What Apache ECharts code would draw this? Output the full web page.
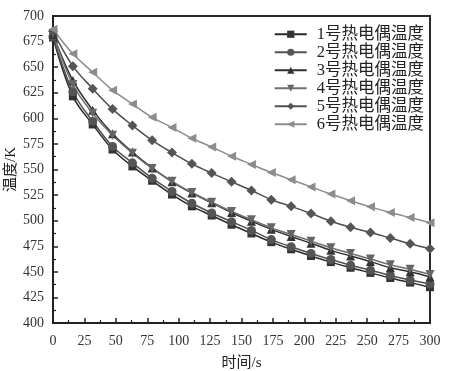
<!DOCTYPE html>
<html><head><meta charset="utf-8">
<script src="https://cdn.jsdelivr.net/npm/echarts@6/dist/echarts.min.js"></script>
<style>html,body{margin:0;padding:0;background:#fff}#c{width:449px;height:371px}</style>
</head><body><div id="c"></div>
<script>
const times = [0, 15.8, 31.6, 47.4, 63.2, 78.9, 94.7, 110.5, 126.3, 142.1, 157.9, 173.7, 189.5, 205.3, 221.1, 236.8, 252.6, 268.4, 284.2, 300];
const names = ['1号热电偶温度','2号热电偶温度','3号热电偶温度','4号热电偶温度','5号热电偶温度','6号热电偶温度'];
const tc1 = [679, 621.5, 594, 569.5, 553, 539, 525.5, 514, 505, 496, 487.5, 479, 472, 465.5, 459.5, 454, 449, 444, 439.5, 435];
const tc2 = [680, 626, 597, 572.5, 556.5, 541.5, 528.5, 517, 507.5, 499, 490.5, 481.5, 474.5, 468, 462, 456.5, 451.5, 446.5, 442, 438];
const tc3 = [682, 637, 608, 585, 567, 551.5, 538, 527, 517.5, 508, 499.5, 491.5, 484.5, 478, 471, 465.5, 460, 454, 450, 445];
const tc4 = [683, 633, 605, 583.5, 566, 551, 538.5, 527.5, 518, 509, 501, 493, 486.5, 480, 473.5, 468, 462.5, 457, 452.5, 447.5];
const tc5 = [685, 651, 629, 609, 593, 578.5, 566.5, 555.5, 546.5, 538, 529.5, 520.5, 514, 507, 499.5, 493.5, 488.5, 483, 477.5, 472.5];
const tc6 = [687, 663, 645, 627.5, 614, 601, 591, 580.5, 572, 563, 555, 547, 540, 533, 526, 519.5, 513.5, 508, 503, 498];

const allData = [tc1, tc2, tc3, tc4, tc5, tc6];
const symbols = ['rect','circle','triangle','triangle','diamond','triangle'];
const rotates = [0, 0, 0, 180, 0, 90];
const sizes = [8, 9, 9, 9, 10, 9];
const lineColors = ['#2a2a2a','#505050','#303030','#707070','#505050','#8c8c8c'];
const markColors = ['#333333','#555555','#333333','#666666','#555555','#8c8c8c'];

const font = '"Liberation Serif", "Noto Sans CJK SC", serif';
const chart = echarts.init(document.getElementById('c'), null, {renderer: 'canvas'});
chart.setOption({
  animation: false,
  backgroundColor: '#fff',
  grid: {left: 53, right: 19, top: 16, bottom: 48, containLabel: false, outerBoundsMode: 'none',
         show: true, borderColor: '#2a2a2a', borderWidth: 2, backgroundColor: 'transparent'},
  legend: {
    orient: 'vertical', right: 20, top: 21, itemGap: 1.5, itemWidth: 32, itemHeight: 9,
    align: 'left',
    textStyle: {fontFamily: font, fontSize: 16.5, color: '#222', padding: [0,0,0,5]},
    data: names
  },
  xAxis: {
    type: 'value', min: 0, max: 300, interval: 25,
    name: '时间/s', nameLocation: 'middle', nameGap: 33, nameMoveOverlap: false,
    nameTextStyle: {fontFamily: font, fontSize: 15, color: '#222'},
    axisLine: {show: true, onZero: false, lineStyle: {color: '#222', width: 2}},
    axisTick: {show: true, inside: true, length: 5, lineStyle: {color: '#222', width: 1.5}},
    minorTick: {show: true, splitNumber: 2, length: 3, lineStyle: {color: '#222', width: 1.2}},
    axisLabel: {fontFamily: font, fontSize: 14, color: '#333', margin: 11},
    splitLine: {show: false}
  },
  yAxis: {
    type: 'value', min: 400, max: 700, interval: 25,
    name: '温度/K', nameLocation: 'middle', nameGap: 34, nameMoveOverlap: false,
    nameTextStyle: {fontFamily: font, fontSize: 15, color: '#222'},
    axisLine: {show: true, onZero: false, lineStyle: {color: '#222', width: 2}},
    axisTick: {show: true, inside: true, length: 5, lineStyle: {color: '#222', width: 1.5}},
    minorTick: {show: true, splitNumber: 2, length: 3, lineStyle: {color: '#222', width: 1.2}},
    axisLabel: {fontFamily: font, fontSize: 14, color: '#333', margin: 9},
    splitLine: {show: false}
  },
  series: allData.map((d, i) => ({
    name: names[i], type: 'line', smooth: 0.35,
    data: d.map((v, j) => [times[j], v]),
    symbol: symbols[i], symbolRotate: rotates[i], symbolSize: sizes[i],
    showAllSymbol: true, clip: false,
    lineStyle: {color: lineColors[i], width: 1.5},
    itemStyle: {color: markColors[i], borderWidth: 0}
  }))
});
</script></body></html>
